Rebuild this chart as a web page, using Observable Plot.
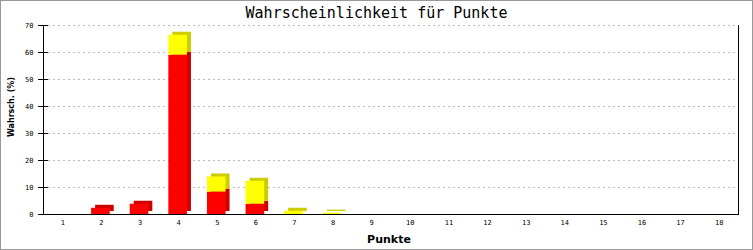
<!DOCTYPE html>
<html><head><meta charset="utf-8">
<script src="https://cdn.jsdelivr.net/npm/d3@7"></script>
<script src="https://cdn.jsdelivr.net/npm/@observablehq/plot@0.6"></script>
<style>
body{margin:0;background:#fff}
#wrap{position:relative;width:753px;height:250px;overflow:hidden}
#border{position:absolute;left:0;top:0;width:753px;height:250px;box-sizing:border-box;border:1px solid #999;pointer-events:none}
svg{display:block}
</style></head>
<body><div id="wrap"><div id="border"></div></div>
<script>
const titel = "Wahrscheinlichkeit für Punkte";
const xLabel = "Punkte";
const yLabel = "Wahrsch. (%)";
const punkte = [1,2,3,4,5,6,7,8,9,10,11,12,13,14,15,16,17,18];
const rot  = [0,2.3,3.8,59,8.3,3.8,0,0,0,0,0,0,0,0,0,0,0,0];
const gelb = [0,0,0,7.4,5.6,8.5,1.2,0.5,0,0,0,0,0,0,0,0,0,0];
const yTicks = [0,10,20,30,40,50,60,70];

const segs = [];
punkte.forEach((p,i)=>{
  if (rot[i]>0) segs.push({p, y1:0, y2:rot[i], fill:"#ff0000", dark:"#cc0000"});
  if (gelb[i]>0) segs.push({p, y1:rot[i], y2:rot[i]+gelb[i], fill:"#ffff00", dark:"#cccc00"});
});

const mono = "DejaVu Sans Mono";
const bar = {x:"p", y1:"y1", y2:"y2", insetLeft:9.5, insetRight:10.5};

const chart = Plot.plot({
  width:753, height:250,
  marginLeft:43, marginRight:15, marginTop:25, marginBottom:36,
  x:{type:"band", domain:punkte, padding:0, round:false, axis:null},
  y:{domain:[0,70], axis:null},
  style:{background:"transparent"},
  marks:[
    Plot.ruleY(yTicks.filter(d=>d>0), {stroke:"#bbbbbb", strokeDasharray:"2,3", insetLeft:5, insetRight:1}),
    Plot.barY(segs, {...bar, fill:"dark", dx:4, dy:-3}),
    Plot.barY(segs, {...bar, fill:"fill"}),
    Plot.frame({anchor:"left", stroke:"#000"}),
    Plot.frame({anchor:"bottom", stroke:"#000"}),
    Plot.frame({anchor:"right", stroke:"#000"}),
    Plot.ruleY(yTicks, {stroke:"#000", insetLeft:-5, insetRight:690}),
    Plot.axisY(yTicks, {tickSize:0, tickPadding:10, fontSize:7, fontFamily:mono, label:null, fill:"#000"}),
    Plot.axisX(punkte, {tickSize:0, tickPadding:6, fontSize:7, fontFamily:mono, label:null, fill:"#000"})
  ]
});
const svg = d3.select(chart);
svg.append("text").text(titel)
  .attr("x", 376.5).attr("y", 13).attr("text-anchor","middle").attr("dominant-baseline","central")
  .attr("font-family", mono).attr("font-size", 15).attr("fill","#000");
svg.append("text").text(xLabel)
  .attr("x", 389).attr("y", 239).attr("text-anchor","middle").attr("dominant-baseline","central")
  .attr("font-family","DejaVu Sans").attr("font-weight","bold").attr("font-size", 11).attr("fill","#000");
svg.append("text").text(yLabel)
  .attr("transform","translate(11,107) rotate(-90)").attr("text-anchor","middle").attr("dominant-baseline","central")
  .attr("font-family","DejaVu Sans").attr("font-weight","bold").attr("font-size", 8).attr("fill","#000");
document.getElementById("wrap").prepend(chart);
</script>
</body></html>
